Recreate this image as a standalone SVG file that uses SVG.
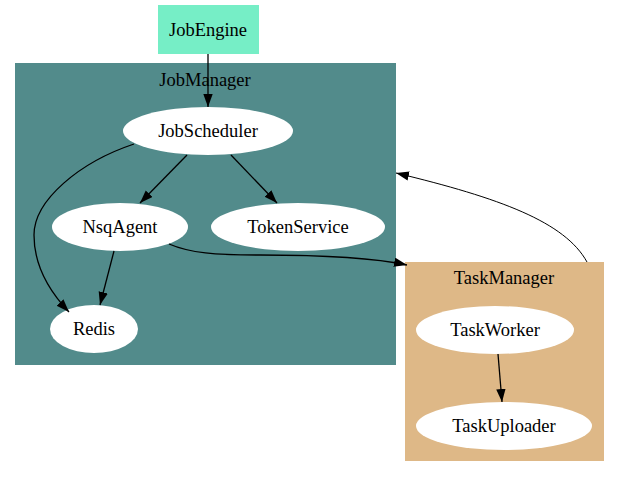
<svg xmlns="http://www.w3.org/2000/svg" width="619" height="477" viewBox="0 0 619 477">
<style>
text{font-family:"Liberation Serif","Times New Roman",serif;font-size:18.5px;fill:#000;text-anchor:middle;dominant-baseline:central}
.n{fill:#fff;stroke:none}
.e{fill:none;stroke:#000;stroke-width:1.3}
</style>
<defs>
<marker id="ah" markerUnits="userSpaceOnUse" markerWidth="14" markerHeight="10" refX="13" refY="4.7" orient="auto">
<path d="M0,0 L13,4.7 L0,9.4 z" fill="#000"/>
</marker>
</defs>
<rect width="619" height="477" fill="#fff"/>
<g id="JobManager">
<rect x="15" y="63" width="381" height="302" fill="#528b8b"/>
<text x="205" y="80">JobManager</text>
</g>
<g id="TaskManager">
<rect x="405" y="262" width="199" height="199" fill="#deb887"/>
<text x="504" y="278">TaskManager</text>
</g>
<g id="JobEngine">
<rect x="158" y="5" width="101" height="49" fill="#76eec6"/>
<text x="208" y="30">JobEngine</text>
</g>
<g id="JobScheduler">
<ellipse class="n" cx="208" cy="131" rx="85" ry="24"/>
<text x="208" y="131">JobScheduler</text>
</g>
<g id="NsqAgent">
<ellipse class="n" cx="120" cy="227" rx="68" ry="24"/>
<text x="120" y="227">NsqAgent</text>
</g>
<g id="TokenService">
<ellipse class="n" cx="298" cy="227" rx="87" ry="24"/>
<text x="298" y="227">TokenService</text>
</g>
<g id="Redis">
<ellipse class="n" cx="94" cy="329" rx="44" ry="24"/>
<text x="94" y="329">Redis</text>
</g>
<g id="TaskWorker">
<ellipse class="n" cx="495" cy="330" rx="79" ry="24"/>
<text x="495" y="330">TaskWorker</text>
</g>
<g id="TaskUploader">
<ellipse class="n" cx="504" cy="426" rx="88" ry="24"/>
<text x="504" y="426">TaskUploader</text>
</g>
<g id="connectors">
<path class="e" marker-end="url(#ah)" d="M208,54 L208,107"/>
<path class="e" marker-end="url(#ah)" d="M187,155 L140,203"/>
<path class="e" marker-end="url(#ah)" d="M231,155 L277,203"/>
<path class="e" marker-end="url(#ah)" d="M134,144 C80,162 34,200 34,235 C34,265 50,292 69,312"/>
<path class="e" marker-end="url(#ah)" d="M114,251 L100,305"/>
<path class="e" marker-end="url(#ah)" d="M169,244 C190,253 215,255 260,255 C320,255 370,257 407,265"/>
<path class="e" marker-end="url(#ah)" style="stroke-width:1" d="M587,262 C565,222 500,198 396,173"/>
<path class="e" marker-end="url(#ah)" d="M498,354 L502,402"/>
</g>
</svg>
